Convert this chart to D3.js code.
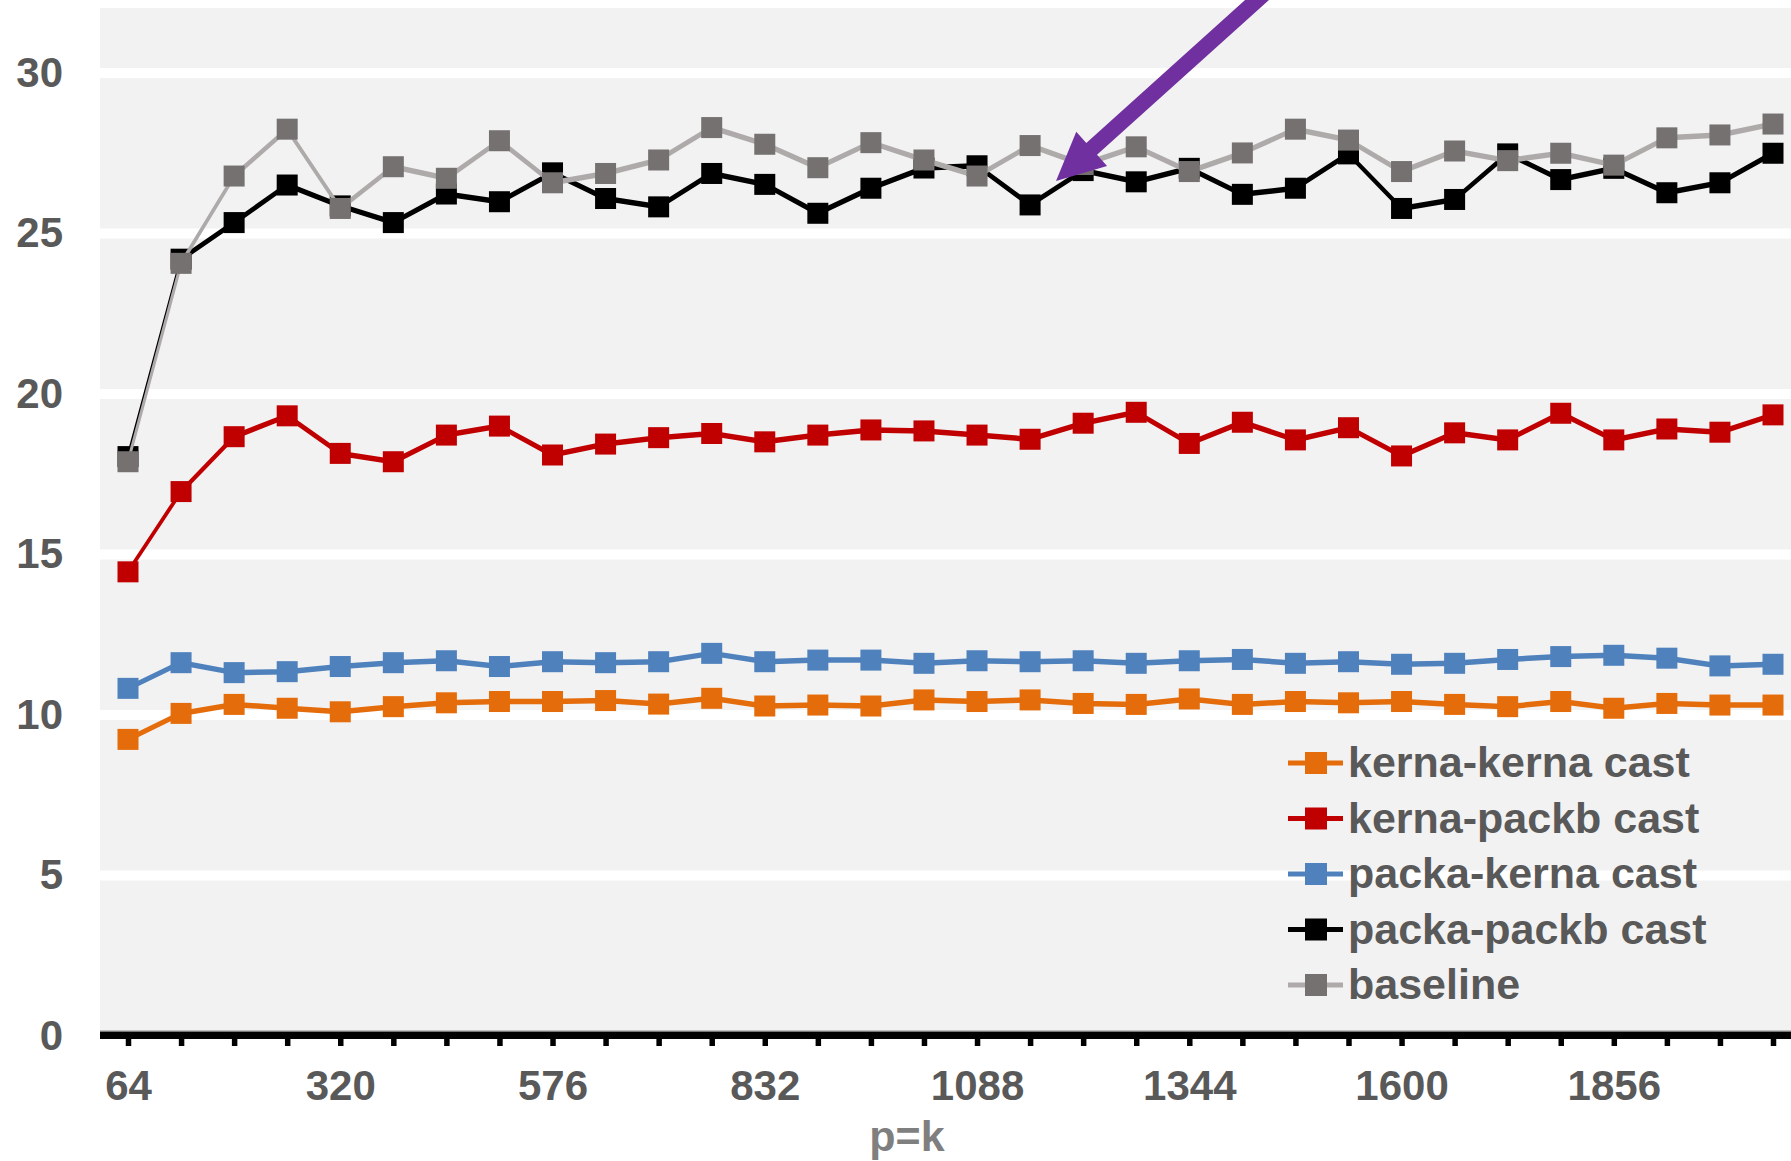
<!DOCTYPE html>
<html>
<head>
<meta charset="utf-8">
<script src="https://cdn.jsdelivr.net/npm/d3@7"></script>
<style>
  html, body { margin: 0; padding: 0; background: #ffffff; }
  svg { display: block; }
  text { font-family: "Liberation Sans", Arial, sans-serif; font-weight: bold; }
</style>
</head>
<body>
<svg id="chart" width="1791" height="1161"></svg>
<script>
// ---------------- data ----------------
const pk = [64, 128, 192, 256, 320, 384, 448, 512, 576, 640, 704, 768, 832, 896, 960, 1024,
            1088, 1152, 1216, 1280, 1344, 1408, 1472, 1536, 1600, 1664, 1728, 1792, 1856, 1920, 1984, 2048];
const xTickLabels = [64, 320, 576, 832, 1088, 1344, 1600, 1856];
const yTickValues = [0, 5, 10, 15, 20, 25, 30];

const seriesNames = ["kerna-kerna cast", "kerna-packb cast", "packa-kerna cast", "packa-packb cast", "baseline"];

const kernaKerna = [9.24, 10.05, 10.33, 10.21, 10.10, 10.26, 10.38, 10.42, 10.42, 10.45, 10.34, 10.52, 10.28, 10.31, 10.28, 10.47,
                    10.42, 10.47, 10.36, 10.33, 10.50, 10.33, 10.42, 10.38, 10.42, 10.33, 10.26, 10.42, 10.21, 10.36, 10.31, 10.31];
const kernaPackb = [14.46, 16.96, 18.67, 19.32, 18.15, 17.89, 18.72, 19.00, 18.10, 18.44, 18.64, 18.77, 18.51, 18.72, 18.88, 18.85,
                    18.72, 18.59, 19.09, 19.43, 18.46, 19.12, 18.57, 18.95, 18.07, 18.79, 18.57, 19.40, 18.57, 18.91, 18.81, 19.35];
const packaKerna = [10.83, 11.63, 11.32, 11.35, 11.51, 11.63, 11.69, 11.51, 11.66, 11.63, 11.66, 11.92, 11.66, 11.71, 11.71, 11.61,
                    11.69, 11.66, 11.69, 11.61, 11.69, 11.73, 11.61, 11.66, 11.58, 11.61, 11.73, 11.82, 11.86, 11.77, 11.53, 11.58];
const packaPackb = [18.05, 24.20, 25.34, 26.51, 25.86, 25.34, 26.23, 25.99, 26.89, 26.09, 25.83, 26.87, 26.53, 25.63, 26.41, 27.04,
                    27.11, 25.89, 26.96, 26.61, 27.03, 26.22, 26.41, 27.48, 25.78, 26.06, 27.48, 26.68, 27.03, 26.27, 26.58, 27.50];
const baseline   = [17.89, 24.07, 26.79, 28.25, 25.78, 27.08, 26.72, 27.89, 26.58, 26.87, 27.29, 28.30, 27.78, 27.05, 27.83, 27.29,
                    26.79, 27.74, 27.15, 27.70, 26.93, 27.51, 28.25, 27.91, 26.93, 27.57, 27.27, 27.50, 27.13, 27.98, 28.07, 28.41];

const seriesValues = [kernaKerna, kernaPackb, packaKerna, packaPackb, baseline];
const lineColors   = ["#E46C0A", "#C00000", "#4F81BD", "#000000", "#AEAAAA"];
const markerColors = ["#E46C0A", "#C00000", "#4F81BD", "#000000", "#767171"];

// ---------------- layout ----------------
const W = 1791, H = 1161;
const plotLeft = 100, plotTop = 8, axisY = 1035.5;
const svg = d3.select("#chart");

const x = d3.scaleLinear().domain([64, 2048]).range([128, 1773]);
const y = d3.scaleLinear().domain([0, 30]).range([1036, 73]);

// plot background
svg.append("rect")
  .attr("x", plotLeft).attr("y", plotTop)
  .attr("width", W - plotLeft).attr("height", axisY - plotTop)
  .attr("fill", "#F2F2F2");

// gridlines
svg.append("g").selectAll("line")
  .data(yTickValues.filter(v => v > 0))
  .join("line")
  .attr("x1", plotLeft).attr("x2", W)
  .attr("y1", d => y(d)).attr("y2", d => y(d))
  .attr("stroke", "#ffffff").attr("stroke-width", 10);

// y axis labels
const yAxis = svg.append("g").attr("transform", "translate(63,0)")
  .call(d3.axisLeft(y).tickValues(yTickValues).tickSize(0).tickPadding(0).tickFormat(d3.format("d")));
yAxis.select(".domain").remove();
yAxis.selectAll("text")
  .attr("font-size", 42).attr("fill", "#595959")
  .style("font-family", '"Liberation Sans", Arial, sans-serif').style("font-weight", "bold");

// x axis
svg.append("line")
  .attr("x1", plotLeft).attr("x2", W)
  .attr("y1", 1030.5).attr("y2", 1030.5)
  .attr("stroke", "#BFBFBF").attr("stroke-width", 1);
svg.append("rect")
  .attr("x", plotLeft).attr("y", 1031.5)
  .attr("width", W - plotLeft).attr("height", 7.5)
  .attr("fill", "#000000");
const labelSet = new Set(xTickLabels);
const xAxis = svg.append("g").attr("transform", "translate(0,1039)")
  .call(d3.axisBottom(x).tickValues(pk).tickSize(7).tickPadding(24)
    .tickFormat(d => labelSet.has(d) ? String(d) : ""));
xAxis.select(".domain").remove();
xAxis.selectAll(".tick line").attr("stroke", "#000").attr("stroke-width", 5.5);
xAxis.selectAll("text")
  .attr("font-size", 42).attr("fill", "#595959")
  .style("font-family", '"Liberation Sans", Arial, sans-serif').style("font-weight", "bold");

// x axis title
svg.append("text")
  .attr("x", 907).attr("y", 1151)
  .attr("text-anchor", "middle")
  .attr("font-size", 43).attr("fill", "#7F7F7F")
  .text("p=k");

// series: lines drawn in a vertically stretched group (thin steep lines, thick flat lines)
const LY = 2;
const lineGen = d3.line().x((d, i) => x(pk[i])).y(d => y(d) / LY);
const markerSize = 21;

seriesValues.forEach((vals, s) => {
  const g = svg.append("g").attr("class", "series");
  g.append("g").attr("transform", `scale(1,${LY})`)
    .append("path")
    .datum(vals)
    .attr("d", lineGen)
    .attr("fill", "none")
    .attr("stroke", lineColors[s])
    .attr("stroke-width", 2.75)
    .attr("stroke-linejoin", "round");
  g.selectAll("rect")
    .data(vals)
    .join("rect")
    .attr("x", (d, i) => x(pk[i]) - markerSize / 2)
    .attr("y", d => y(d) - markerSize / 2)
    .attr("width", markerSize).attr("height", markerSize)
    .attr("fill", markerColors[s]);
});

// legend
const legend = svg.append("g");
seriesNames.forEach((name, s) => {
  const cy = 763 + 55.5 * s;
  legend.append("line")
    .attr("x1", 1288).attr("x2", 1343).attr("y1", cy).attr("y2", cy)
    .attr("stroke", lineColors[s]).attr("stroke-width", 5);
  legend.append("rect")
    .attr("x", 1316 - 11).attr("y", cy - 11)
    .attr("width", 22).attr("height", 22)
    .attr("fill", markerColors[s]);
  legend.append("text")
    .attr("x", 1348).attr("y", cy + 14)
    .attr("font-size", 43).attr("fill", "#595959")
    .text(name);
});

// annotation arrow (purple), entering from above the cropped top edge
(function () {
  const tip = [1056, 181];
  const ux = -0.743, uy = 0.669;            // direction toward tip
  const px = -uy, py = ux;                  // perpendicular
  const headLen = 48, headHalf = 23, shaftHalf = 8, tailLen = 330;
  const bx = tip[0] - ux * headLen, by = tip[1] - uy * headLen;
  const tx = tip[0] - ux * tailLen, ty = tip[1] - uy * tailLen;
  const pts = [
    [tx + px * shaftHalf, ty + py * shaftHalf],
    [bx + px * shaftHalf, by + py * shaftHalf],
    [bx + px * headHalf, by + py * headHalf],
    tip,
    [bx - px * headHalf, by - py * headHalf],
    [bx - px * shaftHalf, by - py * shaftHalf],
    [tx - px * shaftHalf, ty - py * shaftHalf]
  ];
  svg.append("polygon")
    .attr("points", pts.map(p => p.join(",")).join(" "))
    .attr("fill", "#7030A0");
})();
</script>
</body>
</html>
